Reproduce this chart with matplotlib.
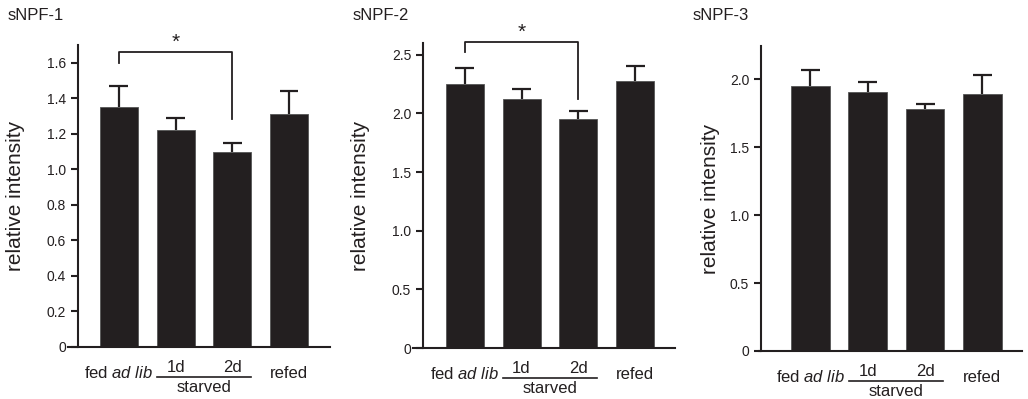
import matplotlib
matplotlib.use('Agg')
import matplotlib.pyplot as plt
from matplotlib.transforms import ScaledTranslation

plt.rcParams['font.family'] = ['Liberation Sans', 'DejaVu Sans']
plt.rcParams['mathtext.fontset'] = 'custom'
plt.rcParams['mathtext.rm'] = 'Liberation Sans'
plt.rcParams['mathtext.it'] = 'Liberation Sans:italic'

titles = ['sNPF-1', 'sNPF-2', 'sNPF-3']
groups = ['fed ad lib', '1d', '2d', 'refed']
values = [[1.35, 1.22, 1.10, 1.31],
          [2.25, 2.12, 1.95, 2.28],
          [1.95, 1.91, 1.78, 1.89]]
errors = [[0.12, 0.07, 0.05, 0.13],
          [0.14, 0.09, 0.07, 0.12],
          [0.12, 0.07, 0.04, 0.14]]
yticks = [[0, 0.2, 0.4, 0.6, 0.8, 1.0, 1.2, 1.4, 1.6],
          [0, 0.5, 1.0, 1.5, 2.0, 2.5],
          [0, 0.5, 1.0, 1.5, 2.0]]
ytop = [1.70, 2.60, 2.245]
# significance brackets: (left leg bottom, bracket height, right leg bottom)
brackets = [(1.60, 1.66, 1.285), (2.52, 2.61, 2.12), None]

dark = '#231f20'
W, H = 1028, 399

# axes boxes in pixels: left, right, top, bottom
boxes = [(68, 330, 45, 347), (413, 675, 43, 348), (759, 1022, 46, 351)]
spine_px = [78, 423, 761]
xlims = [(-0.895, 3.72), (-0.91, 3.70), (-0.895, 3.69)]
ylabel_x = [16, 360, 711]
title_x = [8, 353, 693]

fig = plt.figure(figsize=(W / 100, H / 100), dpi=100)

for i in range(3):
    l, r, t, b = boxes[i]
    ax = fig.add_axes([l / W, (H - b) / H, (r - l) / W, (b - t) / H])
    x = list(range(4))
    tops = [v + e for v, e in zip(values[i], errors[i])]
    ax.vlines(x, values[i], tops, color=dark, lw=1.6, zorder=1)
    ax.hlines(tops, [k - 0.165 for k in x], [k + 0.165 for k in x],
              color=dark, lw=1.6, zorder=1)
    ax.bar(x, values[i], width=0.67, color=dark, edgecolor='#555555',
           linewidth=0.6, zorder=2)
    ax.set_xlim(*xlims[i])
    ax.set_ylim(0, ytop[i])
    ax.set_yticks(yticks[i])
    ax.set_yticklabels(['0' if v == 0 else '%.1f' % v for v in yticks[i]],
                       fontsize=12.5)
    ax.set_xticks([])
    for s in ['top', 'right']:
        ax.spines[s].set_visible(False)
    for s in ['left', 'bottom']:
        ax.spines[s].set_linewidth(1.5)
        ax.spines[s].set_color(dark)
    ax.spines['left'].set_position(('axes', (spine_px[i] - l) / (r - l)))
    ax.tick_params(axis='y', direction='out', length=5, width=1.5, pad=3.5,
                   colors=dark)

    fig.text(ylabel_x[i] / W, (H - (t + b) / 2) / H, 'relative intensity',
             rotation=90, fontsize=15, ha='center', va='center', color=dark)
    fig.text(title_x[i] / W, 1 - 15 / H, titles[i], fontsize=12,
             ha='left', va='center', color=dark)

    # category labels
    xt = ax.get_xaxis_transform()
    kw = dict(xycoords=xt, textcoords='offset points', ha='center',
              va='center', fontsize=12, color=dark, annotation_clip=False)
    ax.annotate(r'fed $\mathit{ad\ lib}$', xy=(0, 0), xytext=(0, -19), **kw)
    ax.annotate(groups[3], xy=(3, 0), xytext=(0, -19), **kw)
    ax.annotate(groups[1], xy=(1, 0), xytext=(0, -14.5), **kw)
    ax.annotate(groups[2], xy=(2, 0), xytext=(0, -14.5), **kw)
    ax.annotate('starved', xy=(1.5, 0), xytext=(0, -29), **kw)
    under = xt + ScaledTranslation(0, -21.5 / 72, fig.dpi_scale_trans)
    ax.plot([0.68, 2.32], [0, 0], transform=under, color=dark, lw=1.2,
            clip_on=False)

    if brackets[i] is not None:
        y1, yb, y2 = brackets[i]
        ax.plot([0, 0, 2, 2], [y1, yb, yb, y2], color=dark, lw=1.3,
                clip_on=False)
        ax.text(1, yb, '*', ha='center', va='bottom', fontsize=15,
                color=dark, clip_on=False)

fig.savefig('out.png', dpi=100)
